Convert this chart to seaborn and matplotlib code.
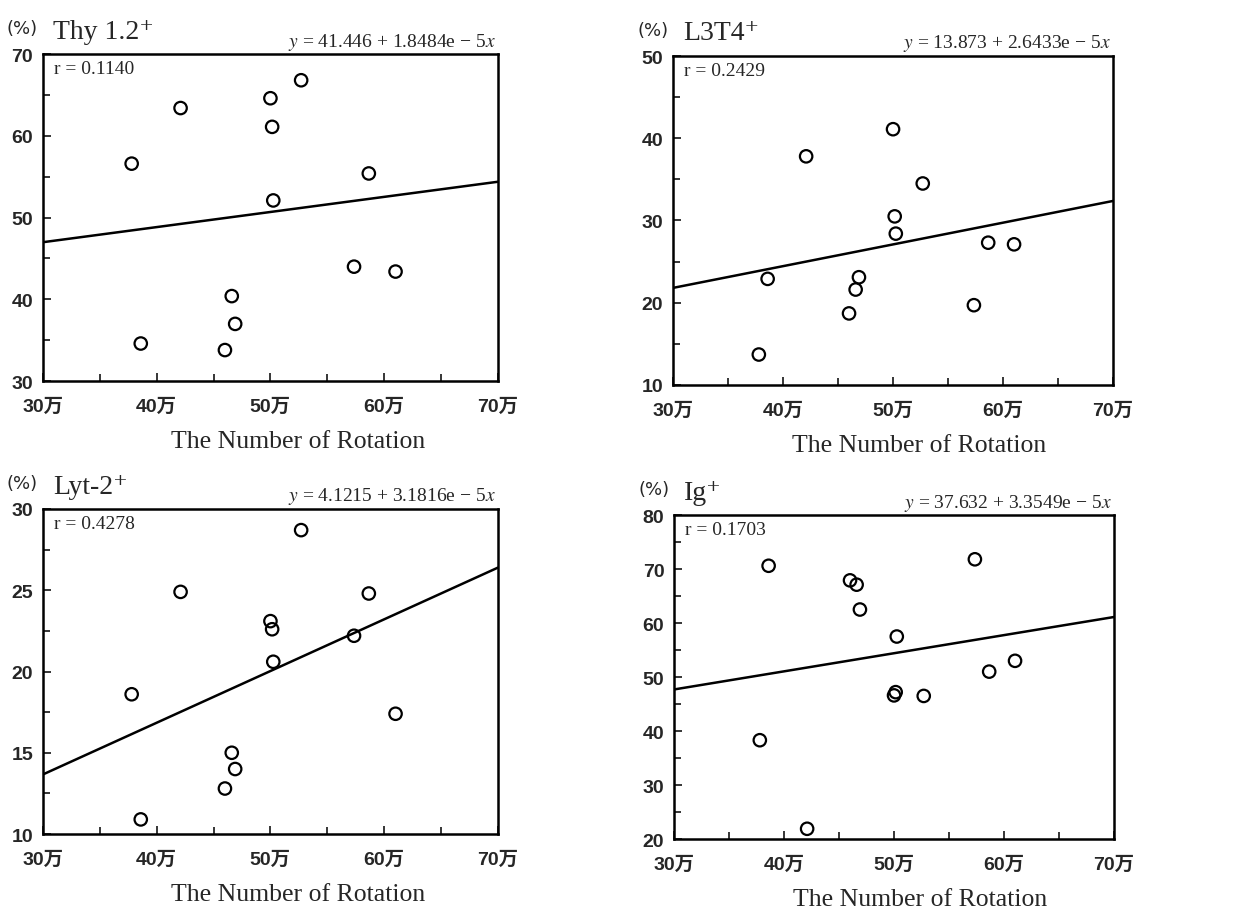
import numpy as np
import pandas as pd
import seaborn as sns
import matplotlib.pyplot as plt
from matplotlib.ticker import MultipleLocator, FuncFormatter

# number of rotations (x 10^4), shared by all four panels
rotation = [37.8, 38.6, 42.1, 46.0, 46.6, 46.9, 50.0, 50.15, 50.25, 52.7, 57.35, 58.65, 61.0]

thy12 = [56.6, 34.6, 63.4, 33.8, 40.4, 37.0, 64.6, 61.1, 52.1, 66.8, 44.0, 55.4, 43.4]
l3t4 = [13.7, 22.9, 37.8, 18.7, 21.6, 23.1, 41.1, 30.5, 28.4, 34.5, 19.7, 27.3, 27.1]
lyt2 = [18.6, 10.9, 24.9, 12.8, 15.0, 14.0, 23.1, 22.6, 20.6, 28.7, 22.2, 24.8, 17.4]
ig = [38.3, 70.6, 21.9, 67.9, 67.1, 62.5, 46.6, 47.2, 57.5, 46.5, 71.8, 51.0, 53.0]

titles = ["Thy 1.2⁺", "L3T4⁺", "Lyt-2⁺", "Ig⁺"]
intercepts = [41.446, 13.873, 4.1215, 37.632]
slopes = [1.8484e-5, 2.6433e-5, 3.1816e-5, 3.3549e-5]
eq_text = ["41.446 + 1.8484e − 5", "13.873 + 2.6433e − 5", "4.1215 + 3.1816e − 5", "37.632 + 3.3549e − 5"]
r_values = ["0.1140", "0.2429", "0.4278", "0.1703"]
y_ranges = [(30, 70, 10), (10, 50, 10), (10, 30, 5), (20, 80, 10)]
series = [thy12, l3t4, lyt2, ig]

sns.set_style("ticks")
plt.rcParams['font.family'] = ['Liberation Serif', 'DejaVu Serif', 'Noto Sans CJK JP']
plt.rcParams['mathtext.fontset'] = 'stix'

fig = plt.figure(figsize=(12.34, 9.12), dpi=100)
boxes = [
    [0.0348, 0.581, 0.3687, 0.3586],
    [0.5454, 0.5768, 0.3566, 0.3607],
    [0.0348, 0.0844, 0.3687, 0.3564],
    [0.5462, 0.0789, 0.3566, 0.3553],
]

tick_fam = ['Liberation Sans', 'Noto Sans CJK JP']

for i in range(4):
    ax = fig.add_axes(boxes[i])
    df = pd.DataFrame({'x': np.array(rotation) * 1e4, 'y': series[i]})
    sns.scatterplot(data=df, x='x', y='y', ax=ax, s=80, marker='o',
                    facecolor='none', edgecolor='black', linewidth=1.6, zorder=3)
    line = pd.DataFrame({'x': [3e5, 7e5]})
    line['y'] = intercepts[i] + slopes[i] * line['x']
    sns.lineplot(data=line, x='x', y='y', ax=ax, color='black', linewidth=1.8)

    lo, hi, step = y_ranges[i]
    ax.set_xlim(3e5, 7e5)
    ax.set_ylim(lo, hi)
    ax.xaxis.set_major_locator(MultipleLocator(1e5))
    ax.xaxis.set_minor_locator(MultipleLocator(5e4))
    ax.yaxis.set_major_locator(MultipleLocator(step))
    ax.yaxis.set_minor_locator(MultipleLocator(step / 2))
    ax.xaxis.set_major_formatter(FuncFormatter(lambda v, p: f"{int(round(v / 1e4))}万"))
    ax.tick_params(which='both', direction='in', top=False, right=False, width=1.3)
    ax.tick_params(which='major', length=6)
    ax.tick_params(which='minor', length=5)
    ax.tick_params(axis='x', pad=12)
    ax.tick_params(axis='y', pad=7)
    for lab in ax.get_xticklabels() + ax.get_yticklabels():
        lab.set_family(tick_fam)
        lab.set_fontsize(14)
        lab.set_fontweight('bold')
    for sp in ax.spines.values():
        sp.set_visible(True)
        sp.set_linewidth(1.8)
        sp.set_color('black')

    ax.set_ylabel('')
    ax.set_xlabel('The Number of Rotation', fontsize=18.5)
    ax.xaxis.set_label_coords(0.56, -0.15)

    ax.text(-0.045, 1.08, '(%)', transform=ax.transAxes, fontsize=13,
            ha='center', va='center', family=['DejaVu Sans'])
    ax.text(0.022, 1.07, titles[i], transform=ax.transAxes, fontsize=20,
            ha='left', va='center')
    ax.text(0.995, 1.04, f"$y$ = {eq_text[i]}$x$", transform=ax.transAxes,
            fontsize=14, ha='right', va='center')
    ax.text(0.025, 0.955, f"r = {r_values[i]}", transform=ax.transAxes,
            fontsize=14, ha='left', va='center')

fig.savefig('out.png', dpi=100, facecolor='white')
